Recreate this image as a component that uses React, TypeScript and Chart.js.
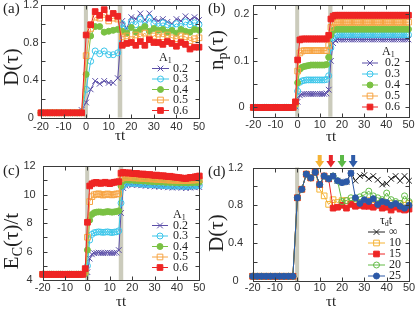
import { useEffect, useRef } from "react";
import { Chart, registerables } from "chart.js";

Chart.register(...registerables);

const SERIF = '"Liberation Serif", "Times New Roman", "DejaVu Serif", serif';
const SANS = '"Liberation Sans", Arial, "DejaVu Sans", sans-serif';
const INK = "#222222";
const FRAME = "#3a3a3a";
const BAND = "#cbcbbc";

// ---------------- time axes ----------------
const tStep2 = [
  -20, -18, -16, -14, -12, -10, -8, -6, -4, -2,
  0, 2, 4, 6, 8, 10, 12, 14, 16, 18,
  20, 22, 24, 26, 28, 30, 32, 34, 36, 38,
  40, 42, 44, 46, 48, 50,
];
const tStep1 = [
  -20, -19, -18, -17, -16, -15, -14, -13, -12, -11,
  -10, -9, -8, -7, -6, -5, -4, -3, -2, -1,
  0, 1, 2, 3, 4, 5, 6, 7, 8, 9,
  10, 11, 12, 13, 14, 15, 16, 17, 18, 19,
  20, 21, 22, 23, 24, 25, 26, 27, 28, 29,
  30, 31, 32, 33, 34, 35, 36, 37, 38, 39,
  40, 41, 42, 43, 44, 45, 46, 47, 48, 49,
  50,
];

// ---------------- legend labels ----------------
const amplitudeLabels = ["0.2", "0.3", "0.4", "0.5", "0.6"];
const durationLabels = ["\u221E", "10", "15", "20", "25"];

// ---------------- panel (a): D(tau) ----------------
const aD02 = [
  0.05, 0.05, 0.05, 0.05, 0.05, 0.05, 0.05, 0.05, 0.05, 0.08,
  0.16, 0.30, 0.39, 0.36, 0.39, 0.37, 0.37, 0.42, 1.03, 0.95,
  1.07, 1.05, 1.11, 1.04, 1.11, 1.05, 1.03, 1.05, 1.02, 1.00,
  1.05, 1.03, 1.08, 1.04, 1.07, 1.04,
];
const aD03 = [
  0.05, 0.05, 0.05, 0.05, 0.05, 0.05, 0.05, 0.05, 0.05, 0.06,
  0.30, 0.60, 0.71, 0.68, 0.71, 0.67, 0.67, 0.69, 1.00, 0.93,
  1.02, 0.99, 1.05, 0.98, 1.06, 1.00, 0.97, 1.01, 0.99, 0.96,
  1.00, 0.97, 1.02, 0.99, 1.01, 0.99,
];
const aD04 = [
  0.05, 0.05, 0.05, 0.05, 0.05, 0.05, 0.05, 0.05, 0.05, 0.05,
  0.46, 0.87, 0.97, 0.97, 0.91, 0.92, 0.93, 0.94, 0.92, 0.90,
  0.96, 0.91, 0.94, 0.97, 0.92, 0.95, 0.93, 0.94, 0.91, 0.93,
  0.90, 0.94, 0.92, 0.91, 0.94, 0.93,
];
const aD05 = [
  0.05, 0.05, 0.05, 0.05, 0.05, 0.05, 0.05, 0.05, 0.05, 0.05,
  0.66, 0.95, 1.07, 1.06, 1.10, 1.03, 1.06, 1.05, 0.86, 0.87,
  0.83, 0.88, 0.86, 0.90, 0.84, 0.87, 0.89, 0.86, 0.88, 0.85,
  0.84, 0.87, 0.86, 0.82, 0.84, 0.85,
];
const aD06 = [
  0.05, 0.05, 0.05, 0.05, 0.05, 0.05, 0.05, 0.05, 0.05, 0.05,
  0.88, 0.99, 1.13, 1.09, 1.15, 1.06, 1.11, 1.08, 0.77, 0.79,
  0.80, 0.77, 0.81, 0.77, 0.83, 0.80, 0.80, 0.78, 0.81, 0.79,
  0.76, 0.80, 0.78, 0.73, 0.75, 0.75,
];

// ---------------- panel (b): n_p(tau) ----------------
const bN02 = [
  0, 0, 0, 0, 0, 0, 0, 0, 0, 0,
  0, 0, 0, 0, 0, 0, 0, 0, 0, 0.002,
  0.012, 0.026, 0.028, 0.029, 0.029, 0.029, 0.029, 0.029, 0.029, 0.029,
  0.029, 0.029, 0.029, 0.030, 0.038, 0.100, 0.138, 0.144, 0.146, 0.146,
  0.146, 0.146, 0.146, 0.146, 0.146, 0.146, 0.146, 0.146, 0.146, 0.146,
  0.146, 0.146, 0.146, 0.146, 0.146, 0.146, 0.146, 0.146, 0.146, 0.146,
  0.146, 0.146, 0.146, 0.146, 0.146, 0.146, 0.146, 0.146, 0.146, 0.146,
  0.146,
];
const bN03 = [
  0, 0, 0, 0, 0, 0, 0, 0, 0, 0,
  0, 0, 0, 0, 0, 0, 0, 0, 0, 0.004,
  0.035, 0.054, 0.057, 0.058, 0.059, 0.059, 0.059, 0.059, 0.059, 0.059,
  0.059, 0.059, 0.059, 0.060, 0.068, 0.128, 0.150, 0.155, 0.156, 0.156,
  0.156, 0.156, 0.156, 0.156, 0.156, 0.156, 0.156, 0.156, 0.156, 0.156,
  0.156, 0.156, 0.156, 0.156, 0.156, 0.156, 0.156, 0.156, 0.156, 0.156,
  0.156, 0.156, 0.156, 0.156, 0.156, 0.156, 0.156, 0.156, 0.156, 0.156,
  0.156,
];
const bN04 = [
  0, 0, 0, 0, 0, 0, 0, 0, 0, 0,
  0, 0, 0, 0, 0, 0, 0, 0, 0, 0.006,
  0.053, 0.082, 0.086, 0.088, 0.089, 0.090, 0.091, 0.091, 0.091, 0.091,
  0.091, 0.091, 0.091, 0.092, 0.108, 0.155, 0.165, 0.168, 0.168, 0.168,
  0.168, 0.168, 0.168, 0.168, 0.168, 0.168, 0.168, 0.168, 0.168, 0.168,
  0.168, 0.168, 0.168, 0.168, 0.168, 0.168, 0.168, 0.168, 0.168, 0.168,
  0.168, 0.168, 0.168, 0.168, 0.168, 0.168, 0.168, 0.168, 0.168, 0.168,
  0.168,
];
const bN05 = [
  0, 0, 0, 0, 0, 0, 0, 0, 0, 0,
  0, 0, 0, 0, 0, 0, 0, 0, 0, 0.008,
  0.078, 0.117, 0.121, 0.122, 0.122, 0.122, 0.122, 0.122, 0.122, 0.122,
  0.122, 0.122, 0.122, 0.122, 0.133, 0.172, 0.181, 0.183, 0.183, 0.183,
  0.183, 0.183, 0.183, 0.183, 0.183, 0.183, 0.183, 0.183, 0.183, 0.183,
  0.183, 0.183, 0.183, 0.183, 0.183, 0.183, 0.183, 0.183, 0.183, 0.183,
  0.183, 0.183, 0.183, 0.183, 0.183, 0.183, 0.183, 0.183, 0.183, 0.183,
  0.183,
];
const bN06 = [
  0, 0, 0, 0, 0, 0, 0, 0, 0, 0,
  0, 0, 0, 0, 0, 0, 0, 0, 0, 0.012,
  0.102, 0.145, 0.147, 0.147, 0.147, 0.147, 0.147, 0.147, 0.147, 0.147,
  0.147, 0.147, 0.147, 0.147, 0.155, 0.190, 0.196, 0.198, 0.198, 0.198,
  0.198, 0.198, 0.198, 0.198, 0.198, 0.198, 0.198, 0.198, 0.198, 0.198,
  0.198, 0.198, 0.198, 0.198, 0.198, 0.198, 0.198, 0.198, 0.198, 0.198,
  0.198, 0.198, 0.198, 0.198, 0.198, 0.198, 0.198, 0.198, 0.198, 0.198,
  0.198,
];

// ---------------- panel (c): E_C(tau)/t ----------------
const cE02 = [
  4.4, 4.4, 4.4, 4.4, 4.4, 4.4, 4.4, 4.4, 4.4, 4.4,
  4.4, 4.4, 4.4, 4.4, 4.4, 4.4, 4.4, 4.4, 4.4, 4.40,
  4.55, 5.50, 5.80, 5.88, 5.90, 5.92, 5.90, 5.88, 5.90, 5.92,
  5.90, 5.88, 5.90, 5.92, 6.10, 8.70, 10.45, 10.62, 10.70, 10.72,
  10.68, 10.74, 10.66, 10.70, 10.64, 10.68, 10.60, 10.66, 10.58, 10.64,
  10.56, 10.62, 10.55, 10.60, 10.52, 10.58, 10.50, 10.56, 10.48, 10.55,
  10.50, 10.58, 10.47, 10.53, 10.45, 10.52, 10.48, 10.55, 10.50, 10.56,
  10.52,
];
const cE03 = [
  4.4, 4.4, 4.4, 4.4, 4.4, 4.4, 4.4, 4.4, 4.4, 4.4,
  4.4, 4.4, 4.4, 4.4, 4.4, 4.4, 4.4, 4.4, 4.4, 4.42,
  5.00, 6.80, 7.20, 7.32, 7.35, 7.38, 7.36, 7.34, 7.36, 7.38,
  7.35, 7.33, 7.36, 7.38, 7.45, 9.40, 10.60, 10.75, 10.82, 10.80,
  10.78, 10.82, 10.76, 10.78, 10.72, 10.76, 10.70, 10.74, 10.68, 10.72,
  10.66, 10.70, 10.64, 10.68, 10.62, 10.66, 10.60, 10.64, 10.58, 10.63,
  10.58, 10.65, 10.57, 10.62, 10.56, 10.61, 10.58, 10.64, 10.60, 10.66,
  10.62,
];
const cE04 = [
  4.4, 4.4, 4.4, 4.4, 4.4, 4.4, 4.4, 4.4, 4.4, 4.4,
  4.4, 4.4, 4.4, 4.4, 4.4, 4.4, 4.4, 4.4, 4.4, 4.45,
  6.10, 8.20, 8.60, 8.72, 8.76, 8.78, 8.77, 8.75, 8.77, 8.80,
  8.78, 8.76, 8.78, 8.80, 8.85, 10.60, 10.95, 11.05, 11.02, 11.00,
  11.03, 10.98, 11.00, 10.96, 10.99, 10.94, 10.97, 10.92, 10.95, 10.90,
  10.93, 10.88, 10.92, 10.87, 10.90, 10.85, 10.89, 10.84, 10.88, 10.83,
  10.87, 10.82, 10.86, 10.82, 10.85, 10.81, 10.85, 10.83, 10.87, 10.84,
  10.88,
];
const cE05 = [
  4.4, 4.4, 4.4, 4.4, 4.4, 4.4, 4.4, 4.4, 4.4, 4.4,
  4.4, 4.4, 4.4, 4.4, 4.4, 4.4, 4.4, 4.4, 4.4, 4.60,
  7.00, 9.50, 9.85, 9.98, 10.02, 10.05, 10.00, 9.96, 10.00, 10.04,
  10.00, 9.97, 10.00, 10.04, 10.05, 11.10, 11.20, 11.22, 11.20, 11.18,
  11.20, 11.16, 11.18, 11.14, 11.16, 11.12, 11.14, 11.10, 11.12, 11.08,
  11.10, 11.06, 11.08, 11.04, 11.06, 11.02, 11.05, 11.00, 11.03, 10.99,
  11.02, 10.98, 11.01, 10.97, 11.00, 10.98, 11.02, 11.00, 11.04, 11.02,
  11.06,
];
const cE06 = [
  4.4, 4.4, 4.4, 4.4, 4.4, 4.4, 4.4, 4.4, 4.4, 4.4,
  4.4, 4.4, 4.4, 4.4, 4.4, 4.4, 4.4, 4.4, 4.4, 4.80,
  8.05, 10.60, 10.75, 10.82, 10.85, 10.80, 10.78, 10.82, 10.86, 10.80,
  10.76, 10.82, 10.86, 10.88, 10.90, 11.50, 11.55, 11.52, 11.50, 11.52,
  11.48, 11.46, 11.48, 11.44, 11.42, 11.44, 11.40, 11.38, 11.40, 11.36,
  11.34, 11.36, 11.32, 11.30, 11.32, 11.28, 11.26, 11.28, 11.24, 11.22,
  11.20, 11.18, 11.16, 11.14, 11.12, 11.16, 11.20, 11.18, 11.24, 11.26,
  11.30,
];

// ---------------- panel (d): D(tau) for pulse durations ----------------
const dDInf = [
  0.05, 0.05, 0.05, 0.05, 0.05, 0.05, 0.05, 0.05, 0.05, 0.05,
  0.88, 0.97, 1.13, 1.09, 1.15, 1.02, 1.11, 1.08, 1.11, 1.06,
  1.04, 1.05, 1.14, 1.06, 1.11, 1.12, 1.08, 1.11, 1.07, 1.02,
  1.03, 1.08, 1.11, 1.06, 1.11, 1.06,
];
const dD10 = [
  0.05, 0.05, 0.05, 0.05, 0.05, 0.05, 0.05, 0.05, 0.05, 0.05,
  0.88, 0.97, 1.13, 1.09, 1.15, 0.97, 0.90, 0.81, 0.86, 0.83,
  0.85, 0.85, 0.82, 0.85, 0.83, 0.82, 0.85, 0.86, 0.81, 0.84,
  0.80, 0.82, 0.79, 0.82, 0.80, 0.82,
];
const dD15 = [
  0.05, 0.05, 0.05, 0.05, 0.05, 0.05, 0.05, 0.05, 0.05, 0.05,
  0.88, 0.97, 1.13, 1.09, 1.15, 1.02, 1.11, 1.08, 0.77, 0.78,
  0.80, 0.77, 0.81, 0.79, 0.80, 0.79, 0.79, 0.78, 0.80, 0.77,
  0.78, 0.75, 0.78, 0.76, 0.75, 0.76,
];
const dD20 = [
  0.05, 0.05, 0.05, 0.05, 0.05, 0.05, 0.05, 0.05, 0.05, 0.05,
  0.88, 0.97, 1.13, 1.09, 1.15, 1.02, 1.11, 1.08, 1.11, 1.06,
  0.84, 0.85, 0.88, 0.87, 0.89, 0.91, 0.95, 0.90, 0.88, 0.86,
  0.93, 0.86, 0.84, 0.82, 0.90, 0.84,
];
const dD25 = [
  0.05, 0.05, 0.05, 0.05, 0.05, 0.05, 0.05, 0.05, 0.05, 0.05,
  0.88, 0.97, 1.13, 1.09, 1.15, 1.02, 1.11, 1.08, 1.11, 1.06,
  1.04, 1.05, 1.14, 0.88, 0.82, 0.86, 0.84, 0.87, 0.81, 0.84,
  0.83, 0.80, 0.82, 0.79, 0.77, 0.80,
];
const pulseEndTimes = [10, 15, 20, 25];
const pulseEndColors = ["#f5b335", "#e8262a", "#5bb947", "#2f5ca8"];

// ---------------- styles ----------------
const C_PURPLE = "#5b4fa8";
const C_CYAN = "#3cc6ea";
const C_GREEN = "#7ac143";
const C_ORANGE = "#f7a443";
const C_RED = "#ee2524";

type Part = { t: string; sub?: boolean };
type Series = { label: string; data: number[]; color: string; style: string; filled: boolean; r: number };

const ampStyles = [
  { color: C_PURPLE, style: "crossRot", filled: false, r: 4 },
  { color: C_CYAN, style: "circle", filled: false, r: 3 },
  { color: C_GREEN, style: "circle", filled: true, r: 3 },
  { color: C_ORANGE, style: "rect", filled: false, r: 4 },
  { color: C_RED, style: "rect", filled: true, r: 4 },
];
const durStyles = [
  { color: "#222222", style: "crossRot", filled: false, r: 4 },
  { color: "#f5b335", style: "rect", filled: false, r: 4 },
  { color: C_RED, style: "rect", filled: true, r: 4 },
  { color: "#62bb46", style: "circle", filled: false, r: 3 },
  { color: "#2c59a7", style: "circle", filled: true, r: 3 },
];

function mk(labels: string[], datas: number[][], styles: any[]): Series[] {
  return labels.map((l, i) => ({ label: l, data: datas[i], ...styles[i] }));
}

const panels: any[] = [
  {
    key: "a",
    cv: { left: 0, top: 0, width: 205, height: 150 },
    area: { left: 41, top: 5, right: 199, bottom: 117.5 },
    t: tStep2,
    y: { min: 0, max: 1.2, step: 0.4, minor: [0, 0.2, 0.4, 0.6, 0.8, 1.0, 1.2] },
    yTickPad: 2.5,
    xTickPad: 3,
    yTitle: [{ t: "D(\u03C4)" }],
    yTitlePos: [12, 67],
    xTitlePos: [120, 136],
    label: "(a)",
    labelPos: [3, 9],
    bands: [[-1, 0.8], [14, 16]],
    legendTitle: [{ t: "A" }, { t: "1", sub: true }],
    legendTitlePos: [159, 58],
    legendRows: [68.5, 79, 89.5, 100, 110.5],
    legendX: [152, 169, 173],
    series: mk(amplitudeLabels, [aD02, aD03, aD04, aD05, aD06], ampStyles),
  },
  {
    key: "b",
    cv: { left: 205, top: 0, width: 210, height: 150 },
    area: { left: 253.3, top: 5, right: 408.5, bottom: 116.7 },
    t: tStep1,
    y: { min: -0.02, max: 0.22, step: 0.1, minor: [0, 0.05, 0.1, 0.15, 0.2] },
    yTickPad: 4,
    xTickPad: 2,
    yTitle: [{ t: "n" }, { t: "p", sub: true }, { t: "(\u03C4)" }],
    yTitlePos: [217, 50],
    xTitlePos: [331, 137],
    label: "(b)",
    labelPos: [208, 9],
    bands: [[-1.1, 0.7], [13.8, 15.7]],
    legendTitle: [{ t: "A" }, { t: "1", sub: true }],
    legendTitlePos: [382, 52],
    legendRows: [63, 74, 85, 96, 107],
    legendX: [362, 378, 385],
    series: mk(amplitudeLabels, [bN02, bN03, bN04, bN05, bN06], ampStyles),
  },
  {
    key: "c",
    cv: { left: 0, top: 150, width: 205, height: 159 },
    area: { left: 42.7, top: 166, right: 199.3, bottom: 280 },
    t: tStep1,
    y: { min: 4, max: 12, step: 2, minor: [4, 5, 6, 7, 8, 9, 10, 11, 12] },
    yTickPad: 7,
    xTickPad: 1,
    yTitle: [{ t: "E" }, { t: "C", sub: true }, { t: "(\u03C4)/t" }],
    yTitlePos: [12.5, 241],
    xTitlePos: [121, 302],
    label: "(c)",
    labelPos: [3, 171.5],
    bands: [[-1, 0.8], [14, 16]],
    legendTitle: [{ t: "A" }, { t: "1", sub: true }],
    legendTitlePos: [173, 215],
    legendRows: [225.5, 236, 246.5, 257, 267.5],
    legendX: [152, 168, 173],
    series: mk(amplitudeLabels, [cE02, cE03, cE04, cE05, cE06], ampStyles),
  },
  {
    key: "d",
    cv: { left: 205, top: 150, width: 210, height: 159 },
    area: { left: 252.7, top: 167.5, right: 409, bottom: 281 },
    t: tStep2,
    y: { min: 0, max: 1.2, step: 0.4, minor: [0, 0.2, 0.4, 0.6, 0.8, 1.0, 1.2] },
    yTickPad: 9.5,
    xTickPad: 0,
    yTitle: [{ t: "D(\u03C4)" }],
    yTitlePos: [217.5, 233],
    xTitlePos: [331, 302],
    label: "(d)",
    labelPos: [208, 172.5],
    bands: [[-1, 0.8]],
    arrows: true,
    legendTitle: [{ t: "\u03C4" }, { t: "d", sub: true }, { t: "t" }],
    legendTitlePos: [380, 221],
    legendRows: [232, 243, 254, 265, 276],
    legendX: [368, 385, 389],
    series: mk(durationLabels, [dDInf, dD10, dD15, dD20, dD25], durStyles),
  },
];

function drawParts(ctx: any, parts: Part[], x: number, y: number, size: number, align: string) {
  const sub = Math.round(size * 0.68);
  const ws = parts.map((p) => {
    ctx.font = `${p.sub ? sub : size}px ${SERIF}`;
    return ctx.measureText(p.t).width;
  });
  const total = ws.reduce((s, w) => s + w, 0);
  let cx = align === "center" ? x - total / 2 : x;
  ctx.textAlign = "left";
  ctx.textBaseline = "middle";
  parts.forEach((p, i) => {
    ctx.font = `${p.sub ? sub : size}px ${SERIF}`;
    ctx.fillText(p.t, cx, p.sub ? y + size * 0.28 : y);
    cx += ws[i];
  });
}

function drawMarker(ctx: any, style: string, x: number, y: number, r: number, color: string, filled: boolean) {
  ctx.save();
  ctx.strokeStyle = color;
  ctx.fillStyle = color;
  ctx.lineWidth = 1;
  ctx.beginPath();
  if (style === "crossRot") {
    const o = r * Math.SQRT1_2;
    ctx.moveTo(x - o, y - o);
    ctx.lineTo(x + o, y + o);
    ctx.moveTo(x - o, y + o);
    ctx.lineTo(x + o, y - o);
    ctx.stroke();
  } else if (style === "circle") {
    ctx.arc(x, y, r, 0, Math.PI * 2);
    if (filled) ctx.fill();
    ctx.stroke();
  } else {
    const s = r * Math.SQRT1_2;
    ctx.rect(x - s, y - s, 2 * s, 2 * s);
    if (filled) ctx.fill();
    ctx.stroke();
  }
  ctx.restore();
}

function makeDecor(p: any) {
  const ox = p.cv.left;
  const oy = p.cv.top;
  return {
    id: "decor" + p.key,
    beforeDatasetsDraw(chart: any) {
      const { ctx, chartArea: a } = chart;
      const xs = chart.scales.x;
      ctx.save();
      ctx.fillStyle = BAND;
      for (const [b0, b1] of p.bands) {
        const x0 = xs.getPixelForValue(b0);
        const x1 = xs.getPixelForValue(b1);
        ctx.fillRect(x0, a.top, x1 - x0, a.bottom - a.top);
      }
      ctx.restore();
    },
    afterDraw(chart: any) {
      const { ctx, chartArea: a } = chart;
      const xs = chart.scales.x;
      const ys = chart.scales.y;
      const sx = (v: number) => Math.round(v) + 0.5;
      ctx.save();
      // frame
      ctx.strokeStyle = FRAME;
      ctx.lineWidth = 1;
      const L = sx(a.left), R = sx(a.right), T = sx(a.top), B = sx(a.bottom);
      ctx.strokeRect(L, T, R - L, B - T);
      // inward ticks
      ctx.beginPath();
      for (const tv of [-20, -10, 0, 10, 20, 30, 40, 50]) {
        const px = sx(xs.getPixelForValue(tv));
        ctx.moveTo(px, B); ctx.lineTo(px, B - 4);
        ctx.moveTo(px, T); ctx.lineTo(px, T + 4);
      }
      for (const tv of p.y.minor) {
        const py = sx(ys.getPixelForValue(tv));
        ctx.moveTo(L, py); ctx.lineTo(L + 4, py);
        ctx.moveTo(R, py); ctx.lineTo(R - 4, py);
      }
      ctx.stroke();
      // titles
      ctx.fillStyle = INK;
      ctx.save();
      ctx.translate(p.yTitlePos[0] - ox, p.yTitlePos[1] - oy);
      ctx.rotate(-Math.PI / 2);
      drawParts(ctx, p.yTitle, 0, 0, 21, "center");
      ctx.restore();
      drawParts(ctx, [{ t: "\u03C4t" }], p.xTitlePos[0] - ox, p.xTitlePos[1] - oy, 15, "center");
      drawParts(ctx, [{ t: p.label }], p.labelPos[0] - ox, p.labelPos[1] - oy, 15, "left");
      // legend
      drawParts(ctx, p.legendTitle, p.legendTitlePos[0] - ox, p.legendTitlePos[1] - oy, 12, "left");
      const [x1, x2, tx] = p.legendX;
      p.series.forEach((s: Series, i: number) => {
        const y = p.legendRows[i] - oy;
        ctx.strokeStyle = s.color;
        ctx.lineWidth = 1;
        ctx.beginPath();
        ctx.moveTo(x1 - ox, y);
        ctx.lineTo(x2 - ox, y);
        ctx.stroke();
        drawMarker(ctx, s.style, (x1 + x2) / 2 - ox, y, s.r, s.color, s.filled);
        ctx.fillStyle = INK;
        drawParts(ctx, [{ t: s.label }], tx - ox, y, 12, "left");
      });
      // arrows marking end of pulse
      if (p.arrows) {
        pulseEndTimes.forEach((tv, i) => {
          const px = xs.getPixelForValue(tv);
          const top = 155 - oy;
          ctx.fillStyle = pulseEndColors[i];
          ctx.fillRect(px - 2, top, 4, 7);
          ctx.beginPath();
          ctx.moveTo(px - 4.5, top + 6);
          ctx.lineTo(px + 4.5, top + 6);
          ctx.lineTo(px, top + 12.5);
          ctx.closePath();
          ctx.fill();
        });
      }
      ctx.restore();
    },
  };
}

function buildConfig(p: any): any {
  const n = p.series.length;
  const cvRight = p.cv.left + p.cv.width;
  const cvBottom = p.cv.top + p.cv.height;
  return {
    type: "line",
    data: {
      datasets: p.series.map((s: Series, i: number) => ({
        label: s.label,
        data: p.t.map((x: number, j: number) => ({ x, y: s.data[j] })),
        borderColor: s.color,
        backgroundColor: s.filled ? s.color : "rgba(0,0,0,0)",
        borderWidth: 1,
        pointStyle: s.style,
        pointRadius: s.r,
        pointBorderWidth: 1,
        pointBorderColor: s.color,
        pointBackgroundColor: s.filled ? s.color : "rgba(0,0,0,0)",
        tension: 0,
        clip: false,
        order: n - 1 - i,
      })),
    },
    options: {
      responsive: false,
      animation: false,
      devicePixelRatio: 1,
      layout: {
        padding: {
          left: 0,
          top: p.area.top - p.cv.top,
          right: cvRight - p.area.right,
          bottom: 0,
        },
      },
      plugins: {
        legend: { display: false },
        tooltip: { enabled: false },
        title: { display: false },
      },
      scales: {
        x: {
          type: "linear",
          min: -20,
          max: 50,
          ticks: {
            stepSize: 10,
            autoSkip: false,
            maxRotation: 0,
            includeBounds: false,
            padding: p.xTickPad,
            color: "#333333",
            font: { family: SANS, size: 11 },
          },
          grid: { display: false, drawTicks: false },
          border: { display: false },
          afterFit(s: any) {
            s.height = cvBottom - p.area.bottom;
            s.paddingLeft = 0;
            s.paddingRight = 0;
          },
        },
        y: {
          type: "linear",
          min: p.y.min,
          max: p.y.max,
          ticks: {
            stepSize: p.y.step,
            includeBounds: false,
            crossAlign: "center",
            padding: p.yTickPad,
            color: "#333333",
            font: { family: SANS, size: 11 },
            callback: (v: any) => String(+Number(v).toFixed(2)),
          },
          grid: { display: false, drawTicks: false },
          border: { display: false },
          afterFit(s: any) {
            s.width = p.area.left - p.cv.left;
            s.paddingTop = 0;
            s.paddingBottom = 0;
          },
        },
      },
    },
    plugins: [makeDecor(p)],
  };
}

function Panel({ spec }: { spec: any }) {
  const ref = useRef<HTMLCanvasElement>(null);
  useEffect(() => {
    const chart = new Chart(ref.current as HTMLCanvasElement, buildConfig(spec));
    return () => chart.destroy();
  }, [spec]);
  return (
    <canvas
      ref={ref}
      width={spec.cv.width}
      height={spec.cv.height}
      style={{
        position: "absolute",
        left: spec.cv.left,
        top: spec.cv.top,
        width: spec.cv.width,
        height: spec.cv.height,
      }}
    />
  );
}

export default function App() {
  return (
    <div
      style={{
        position: "fixed",
        left: 0,
        top: 0,
        width: 415,
        height: 309,
        overflow: "hidden",
        background: "#ffffff",
      }}
    >
      {panels.map((p) => (
        <Panel key={p.key} spec={p} />
      ))}
    </div>
  );
}
